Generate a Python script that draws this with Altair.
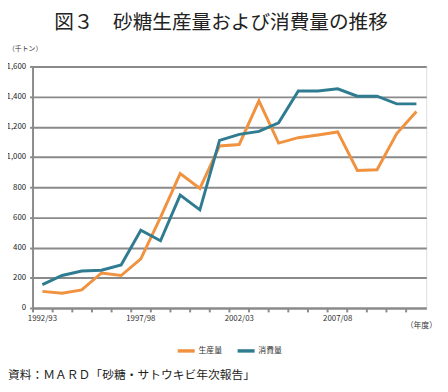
import altair as alt
import pandas as pd

years = ["1992/93", "1993/94", "1994/95", "1995/96", "1996/97", "1997/98", "1998/99",
         "1999/00", "2000/01", "2001/02", "2002/03", "2003/04", "2004/05", "2005/06",
         "2006/07", "2007/08", "2008/09", "2009/10", "2010/11", "2011/12"]
production = [110, 97, 120, 232, 215, 325, 600, 890, 792, 1073, 1083, 1372, 1092, 1128,
              1146, 1166, 911, 916, 1155, 1302]
consumption = [155, 215, 245, 250, 285, 515, 445, 748, 650, 1110, 1150, 1170, 1226, 1437,
               1437, 1452, 1403, 1403, 1352, 1352]
series_names = ["生産量", "消費量"]
shown_labels = ["1992/93", "1997/98", "2002/03", "2007/08"]

rows = []
for i, y in enumerate(years):
    rows.append({"年度": y, "系列": series_names[0], "値": production[i]})
    rows.append({"年度": y, "系列": series_names[1], "値": consumption[i]})
df = pd.DataFrame(rows)

FONT = "Noto Sans CJK JP"
GRAY = "#8a8a8a"
ORANGE = "#F0923F"
BLUE = "#2F7C91"

lines = alt.Chart(df).mark_line(strokeWidth=3).encode(
    x=alt.X("年度:O", sort=years,
            scale=alt.Scale(type="band", paddingInner=0, paddingOuter=0),
            axis=alt.Axis(title=None, labelAngle=0, bandPosition=0,
                          labelExpr="indexof(" + str(shown_labels) + ", datum.value) >= 0 ? datum.label : ''",
                          labelFont=FONT, labelFontSize=8, labelColor="#333",
                          labelPadding=3, tickSize=4, tickColor=GRAY, tickWidth=2,
                          domainColor=GRAY, domainWidth=2, grid=False)),
    y=alt.Y("値:Q", scale=alt.Scale(domain=[0, 1600]),
            axis=alt.Axis(title=None, values=list(range(0, 1601, 200)), format=",d",
                          labelFont=FONT, labelFontSize=8, labelColor="#222",
                          labelPadding=4, tickSize=3, tickColor=GRAY, tickWidth=2,
                          domainColor=GRAY, domainWidth=2,
                          grid=True, gridColor=GRAY, gridWidth=2)),
    color=alt.Color("系列:N", sort=series_names,
                    scale=alt.Scale(domain=series_names, range=[ORANGE, BLUE]),
                    legend=alt.Legend(title=None, orient="none", legendX=146, legendY=279,
                                      direction="horizontal", symbolType="stroke",
                                      symbolStrokeWidth=3.5, symbolSize=300,
                                      labelFont=FONT, labelFontSize=8, labelColor="#333",
                                      labelOffset=2, columnPadding=8)),
)

def label(text, x, y, size, align="left", weight="normal", color="#333"):
    return alt.Chart(pd.DataFrame({"t": [text]})).mark_text(
        align=align, baseline="middle", font=FONT, fontSize=size,
        fontWeight=weight, color=color
    ).encode(text="t:N", x=alt.value(x), y=alt.value(y))

title = label("図３　砂糖生産量および消費量の推移", 192, -44, 20, align="center", color="#222")
unit = label("（千トン）", -25, -18, 7)
unit_x = label("（年度）", 380, 264, 8)
source = label("資料：ＭＡＲＤ「砂糖・サトウキビ年次報告」", -25, 314, 12, color="#222")

chart = alt.layer(lines, title, unit, unit_x, source).properties(
    width=401, height=246,
    autosize=alt.AutoSizeParams(type="none"),
    padding={"left": 25, "top": 56, "right": 14, "bottom": 78},
).configure_view(stroke=None).configure(background="white")

chart.save("out.html", embed_options={"renderer": "svg", "actions": False})
